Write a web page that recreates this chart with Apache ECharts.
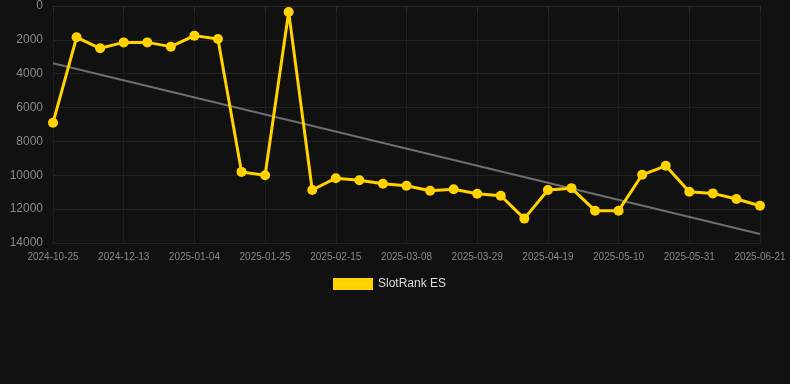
<!DOCTYPE html>
<html><head><meta charset="utf-8">
<script src="https://cdn.jsdelivr.net/npm/echarts@6/dist/echarts.min.js"></script>
<style>html,body{margin:0;padding:0;background:#111111;}#c{width:790px;height:384px;}</style>
</head><body><div id="c"></div>
<script>
const categories = ["2024-10-25","2024-11-29","2024-12-06","2024-12-13","2024-12-20","2024-12-27","2025-01-04","2025-01-11","2025-01-18","2025-01-25","2025-02-01","2025-02-08","2025-02-15","2025-02-22","2025-03-01","2025-03-08","2025-03-15","2025-03-22","2025-03-29","2025-04-05","2025-04-12","2025-04-19","2025-04-26","2025-05-03","2025-05-10","2025-05-17","2025-05-24","2025-05-31","2025-06-07","2025-06-14","2025-06-21"];
const rankValues = [6900,1850,2500,2150,2150,2400,1750,1950,9800,10000,350,10870,10170,10290,10500,10620,10910,10820,11090,11210,12560,10870,10760,12090,12090,9970,9440,10970,11070,11400,11800];
const trendEnds = [3380,13470];
const yTicks = [0,2000,4000,6000,8000,10000,12000,14000];
const seriesName = "SlotRank ES";

const trendData = categories.map((c,i)=> i===0 ? trendEnds[0] : (i===categories.length-1 ? trendEnds[1] : null));

const chart = echarts.init(document.getElementById('c'), null, {renderer:'canvas'});
chart.setOption({
  backgroundColor:'#111111',
  animation:false,
  grid:{left:53,right:30,top:6,bottom:141,containLabel:false},
  legend:{
    data:[{name:seriesName,icon:'rect'}],
    top:273,left:328,itemWidth:40,itemHeight:12,itemGap:10,
    textStyle:{color:'#dddddd',fontSize:12,fontFamily:'Arial, Liberation Sans, sans-serif'}
  },
  xAxis:{
    type:'category',data:categories,boundaryGap:false,
    axisLine:{show:true,lineStyle:{color:'#2a2a2a'}},
    axisTick:{show:true,interval:2,lineStyle:{color:'#2a2a2a'}},
    axisLabel:{interval:2,color:'#888888',fontSize:10,margin:9,fontFamily:'Arial, Liberation Sans, sans-serif'},
    splitLine:{show:true,interval:2,lineStyle:{color:'#1e1e1e'}}
  },
  yAxis:{
    type:'value',inverse:true,min:yTicks[0],max:yTicks[yTicks.length-1],interval:2000,
    axisLine:{show:false},axisTick:{show:false},
    axisLabel:{color:'#8a8a8a',fontSize:12,margin:10,formatter:(v)=>String(v),fontFamily:'Arial, Liberation Sans, sans-serif'},
    splitLine:{show:true,lineStyle:{color:'#222222'}}
  },
  series:[
    {
      name:'trend',type:'line',data:trendData,connectNulls:true,symbol:'none',
      lineStyle:{color:'#6e6e6e',width:2},z:1,silent:true
    },
    {
      name:seriesName,type:'line',data:rankValues,
      symbol:'circle',symbolSize:10,
      itemStyle:{color:'#FFD200'},
      lineStyle:{color:'#FFD200',width:3},z:2
    }
  ]
});
</script></body></html>
